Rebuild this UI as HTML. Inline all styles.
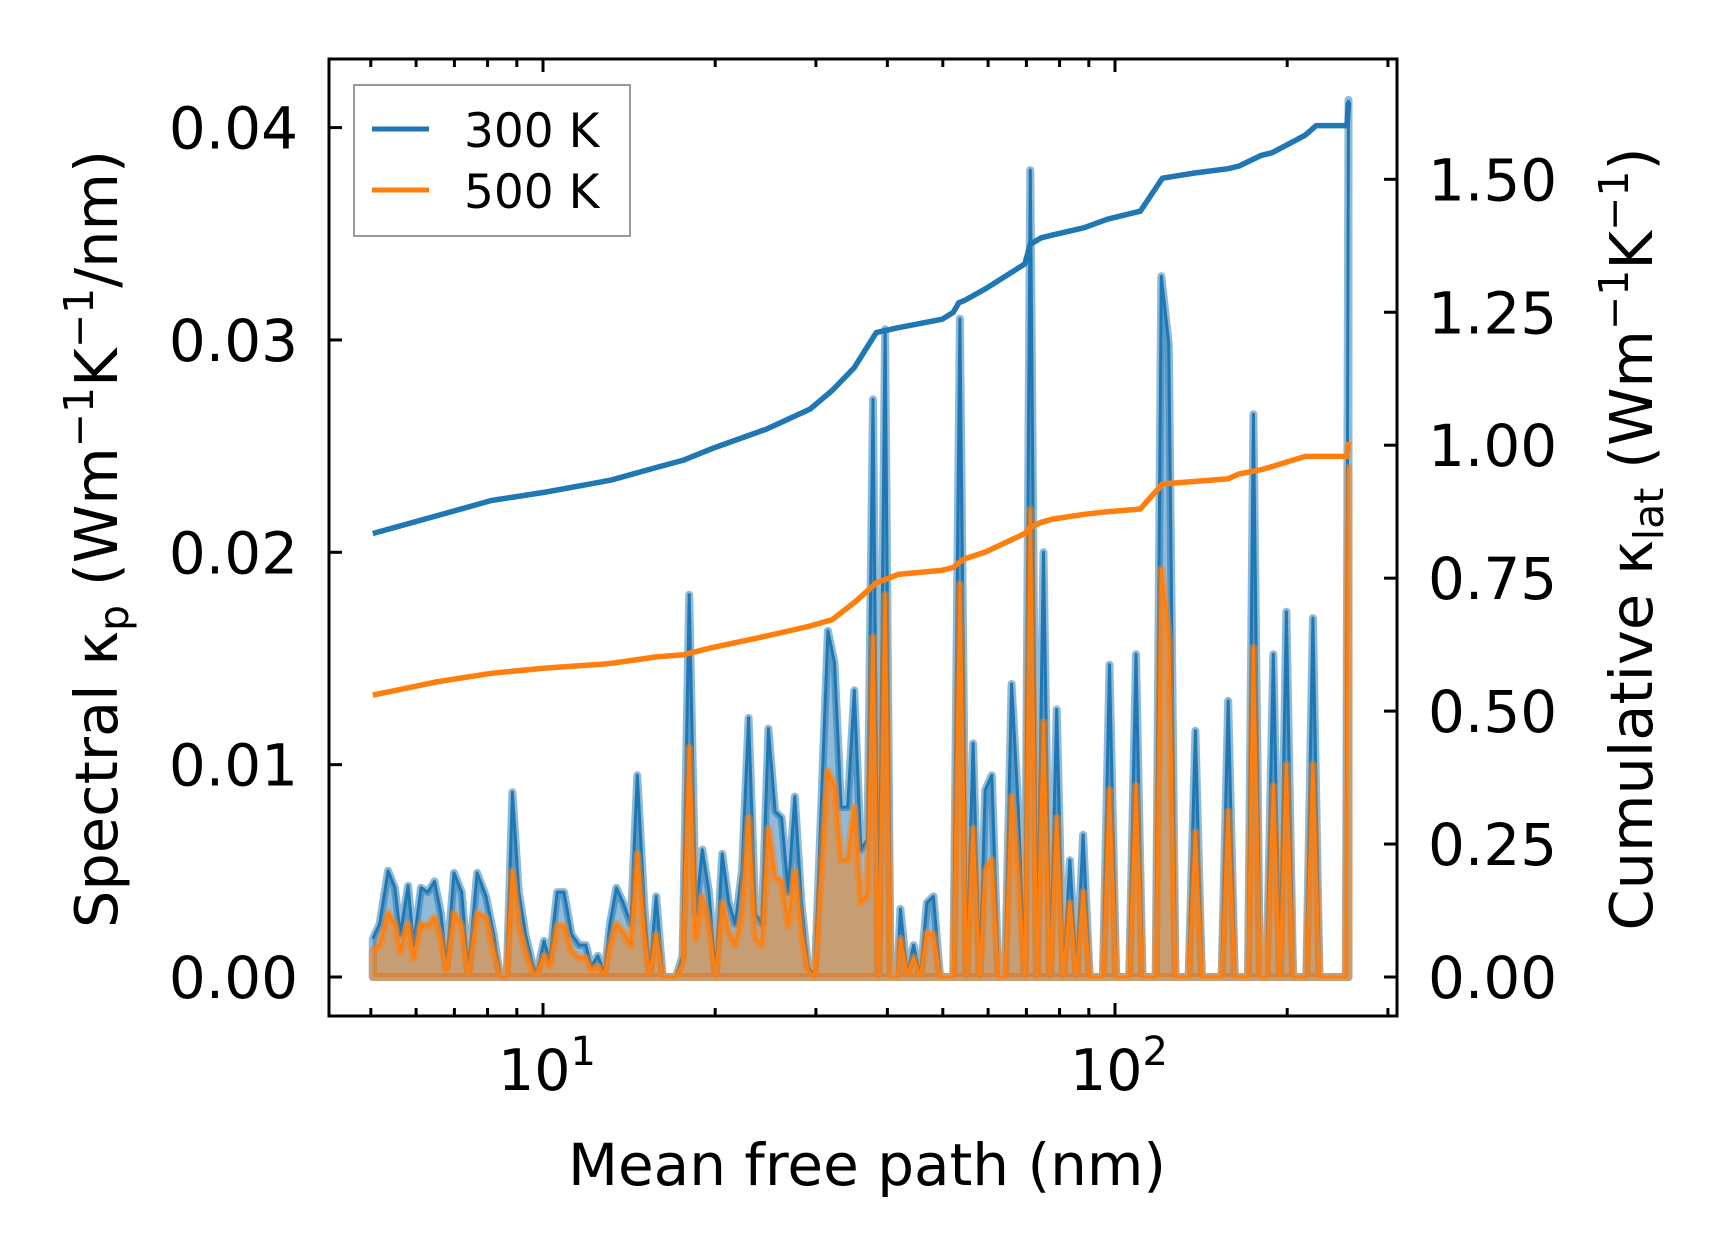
<!DOCTYPE html>
<html><head><meta charset="utf-8"><style>
html,body{margin:0;padding:0;background:#fff;}
svg{display:block;font-family:"DejaVu Sans","Liberation Sans",sans-serif;}
</style></head><body>
<svg id="chart" width="1716" height="1254" viewBox="0 0 1716 1254" xmlns="http://www.w3.org/2000/svg">
<rect width="1716" height="1254" fill="#fff"/>
<g id="plot"></g>
<g id="axes"></g>
</svg>
<script>
// spectral data
const mfp = [5.04,5.18,5.36,5.51,5.63,5.81,5.94,6.12,6.29,6.46,6.63,6.78,6.99,7.21,7.40,7.67,7.95,8.20,8.42,8.64,8.84,9.07,9.32,9.57,9.74,10.04,10.27,10.59,10.88,11.22,11.57,11.88,12.15,12.47,12.81,13.09,13.44,13.81,14.24,14.62,15.02,15.36,15.77,16.19,17.08,17.54,18.01,18.50,18.99,19.51,20.03,20.57,21.13,21.69,22.28,22.88,23.50,24.13,24.78,25.45,26.13,26.84,27.56,28.30,29.06,29.85,30.65,31.48,32.33,33.20,34.09,35.01,35.95,36.92,37.75,38.59,39.63,40.51,41.61,42.16,43.30,44.46,45.66,46.89,48.15,49.45,52.15,53.56,55.00,56.48,58.00,59.30,60.89,62.54,64.22,65.95,67.73,69.55,71.10,73.02,74.99,77.01,79.08,81.21,83.40,85.65,87.95,90.32,95.26,97.82,100.5,105.9,108.8,111.7,117.8,120.5,124.2,127.6,134.5,138.2,141.9,153.6,157.7,162.0,170.8,174.6,179.3,184.1,189.1,194.2,199.4,204.8,216.0,221.8,227.8,253.3,256.0];
const kp300 = [0.0018,0.0025,0.0050,0.0042,0.0020,0.0043,0.0015,0.0042,0.0040,0.0045,0.0030,0.0005,0.0049,0.0040,0.0002,0.0049,0.0038,0.0020,0.0000,0.0000,0.0087,0.0040,0.0020,0.0007,0.0001,0.0017,0.0008,0.0040,0.0040,0.0020,0.0015,0.0015,0.0005,0.0010,0.0002,0.0025,0.0042,0.0035,0.0025,0.0095,0.0035,0.0001,0.0038,0.0000,0.0000,0.0010,0.0180,0.0030,0.0060,0.0040,0.0000,0.0058,0.0035,0.0025,0.0050,0.0122,0.0030,0.0025,0.0117,0.0078,0.0075,0.0040,0.0085,0.0035,0.0005,0.0000,0.0080,0.0163,0.0148,0.0080,0.0080,0.0135,0.0060,0.0065,0.0272,0.0000,0.0305,0.0000,0.0000,0.0032,0.0001,0.0015,0.0000,0.0035,0.0038,0.0000,0.0000,0.0310,0.0000,0.0110,0.0000,0.0088,0.0095,0.0000,0.0000,0.0138,0.0080,0.0000,0.0380,0.0000,0.0200,0.0000,0.0126,0.0000,0.0055,0.0000,0.0067,0.0000,0.0000,0.0147,0.0000,0.0000,0.0152,0.0000,0.0000,0.0330,0.0298,0.0000,0.0000,0.0116,0.0000,0.0000,0.0130,0.0000,0.0000,0.0265,0.0000,0.0000,0.0152,0.0000,0.0172,0.0000,0.0000,0.0169,0.0000,0.0000,0.0413];
const kp500 = [0.0012,0.0015,0.0030,0.0025,0.0012,0.0025,0.0009,0.0025,0.0024,0.0028,0.0018,0.0003,0.0030,0.0024,0.0001,0.0030,0.0028,0.0012,0.0000,0.0000,0.0050,0.0024,0.0012,0.0003,0.0001,0.0010,0.0005,0.0024,0.0024,0.0012,0.0009,0.0009,0.0003,0.0005,0.0001,0.0015,0.0025,0.0021,0.0015,0.0058,0.0021,0.0001,0.0020,0.0000,0.0000,0.0006,0.0108,0.0018,0.0038,0.0024,0.0000,0.0035,0.0021,0.0015,0.0030,0.0075,0.0018,0.0015,0.0070,0.0047,0.0045,0.0024,0.0050,0.0021,0.0003,0.0000,0.0050,0.0097,0.0090,0.0055,0.0055,0.0080,0.0035,0.0039,0.0160,0.0000,0.0180,0.0000,0.0000,0.0018,0.0001,0.0009,0.0000,0.0021,0.0020,0.0000,0.0000,0.0185,0.0000,0.0070,0.0000,0.0050,0.0055,0.0000,0.0000,0.0085,0.0048,0.0000,0.0220,0.0000,0.0120,0.0000,0.0075,0.0000,0.0035,0.0000,0.0040,0.0000,0.0000,0.0088,0.0000,0.0000,0.0090,0.0000,0.0000,0.0192,0.0160,0.0000,0.0000,0.0068,0.0000,0.0000,0.0078,0.0000,0.0000,0.0155,0.0000,0.0000,0.0090,0.0000,0.0100,0.0000,0.0000,0.0100,0.0000,0.0000,0.0240];
// cumulative data
const cumMfp = [5.04,6.51,8.12,10.13,12.64,13.21,15.77,17.62,19.68,24.56,29.32,32.04,35.01,38.25,41.79,49.89,52.15,53.32,54.52,59.56,69.55,71.10,74.33,77.69,88.34,96.97,110.7,121.0,138.2,157.7,164.8,180.1,188.3,215.0,224.8,254.4,256.0];
const cum300 = [0.834,0.867,0.896,0.912,0.931,0.935,0.958,0.972,0.993,1.030,1.068,1.103,1.146,1.212,1.221,1.237,1.250,1.268,1.272,1.295,1.341,1.378,1.390,1.395,1.409,1.425,1.440,1.502,1.512,1.520,1.525,1.545,1.550,1.583,1.601,1.601,1.645];
const cum500 = [0.530,0.555,0.571,0.581,0.588,0.590,0.602,0.606,0.619,0.641,0.660,0.672,0.704,0.741,0.757,0.765,0.770,0.779,0.786,0.800,0.834,0.846,0.855,0.861,0.870,0.875,0.880,0.927,0.932,0.937,0.946,0.954,0.960,0.979,0.979,0.979,1.006];
const yTicksL = ["0.00","0.01","0.02","0.03","0.04"];
const yTickValsL = [0,0.01,0.02,0.03,0.04];
const yTicksR = ["0.00","0.25","0.50","0.75","1.00","1.25","1.50"];
const yTickValsR = [0,0.25,0.5,0.75,1.0,1.25,1.5];

const L=329,R=1397,T=59,B=1016;
const X=v=>543+(Math.log10(v)-1)*572;
const YL=v=>977-v*21235;
const YR=v=>977-v*531.8;
const NS="http://www.w3.org/2000/svg";
const plot=document.getElementById('plot'), axes=document.getElementById('axes');
function mk(tag,attrs,parent){const e=document.createElementNS(NS,tag);for(const k in attrs)e.setAttribute(k,attrs[k]);parent.appendChild(e);return e;}

function spectral(vals,color,name){
  let pts=mfp.map((m,i)=>X(m).toFixed(1)+','+YL(vals[i]).toFixed(1));
  let area='M'+X(mfp[0]).toFixed(1)+','+YL(0)+' L'+pts.join(' L')+' L'+X(mfp[mfp.length-1]).toFixed(1)+','+YL(0)+' Z';
  const f=mk('path',{d:area,fill:color,'fill-opacity':0.5,stroke:color,'stroke-opacity':0.5,'stroke-width':8,'stroke-linejoin':'round'},plot);
  
  
  const l=mk('polyline',{points:pts.join(' '),fill:'none',stroke:color,'stroke-width':3,'stroke-linejoin':'round'},plot);
  
  
}
spectral(kp300,'#1f77b4','spectral-300k');
spectral(kp500,'#ff7f0e','spectral-500k');
function cum(vals,color,name){
  const pts=cumMfp.map((m,i)=>X(m).toFixed(1)+','+YR(vals[i]).toFixed(1)).join(' ');
  const l=mk('polyline',{points:pts,fill:'none',stroke:color,'stroke-width':5.5,'stroke-linejoin':'round'},plot);
  
  
}
cum(cum300,'#1f77b4','cumulative-300k');
cum(cum500,'#ff7f0e','cumulative-500k');

// frame
const fr=mk('rect',{x:L,y:T,width:R-L,height:B-T,fill:'none',stroke:'#000','stroke-width':3},axes);


// x ticks
for(let d=0;d<=2;d++){for(let k=1;k<10;k++){const v=k*Math.pow(10,d);if(v<4.2||v>300)continue;const x=X(v);const len=k===1?13:8;
  mk('line',{x1:x,x2:x,y1:B,y2:B-len,stroke:'#000','stroke-width':3},axes);
  mk('line',{x1:x,x2:x,y1:T,y2:T+len,stroke:'#000','stroke-width':3},axes);}}
[[10,'1'],[100,'2']].forEach(([v,e])=>{const t=mk('text',{x:X(v)+4,y:1090,'font-size':57,'text-anchor':'middle'},axes);
  
  
  t.innerHTML='10<tspan dy="-25" font-size="40">'+e+'</tspan>';});
yTickValsL.forEach((v,i)=>{const y=YL(v);mk('line',{x1:L,x2:L+13,y1:y,y2:y,stroke:'#000','stroke-width':3},axes);
  const t=mk('text',{x:298,y:y+21,'font-size':58,'text-anchor':'end'},axes);t.textContent=yTicksL[i];
  
  });
yTickValsR.forEach((v,i)=>{const y=YR(v);mk('line',{x1:R,x2:R-13,y1:y,y2:y,stroke:'#000','stroke-width':3},axes);
  const t=mk('text',{x:1428,y:y+21,'font-size':58,'text-anchor':'start'},axes);t.textContent=yTicksR[i];
  
  });
</script>
<svg style="position:absolute;left:0;top:0" width="1716" height="1254" xmlns="http://www.w3.org/2000/svg" font-family="DejaVu Sans, Liberation Sans, sans-serif">
<text x="867" y="1185" font-size="58" text-anchor="middle">Mean free path (nm)</text>
<text transform="translate(117,539) rotate(-90)" font-size="59" text-anchor="middle">Spectral κ<tspan font-size="41" dy="11">p</tspan><tspan dy="-11"> (Wm</tspan><tspan font-size="41" dy="-24">−1</tspan><tspan dy="24">K</tspan><tspan font-size="41" dy="-24">−1</tspan><tspan dy="24">/nm)</tspan></text>
<text transform="translate(1652,539) rotate(-90)" font-size="59" text-anchor="middle">Cumulative κ<tspan font-size="41" dy="11">lat</tspan><tspan dy="-11"> (Wm</tspan><tspan font-size="41" dy="-24">−1</tspan><tspan dy="24">K</tspan><tspan font-size="41" dy="-24">−1</tspan><tspan dy="24">)</tspan></text>
<g>
<rect x="354" y="85" width="276" height="151" fill="#fff" fill-opacity="0.8" stroke="#999" stroke-width="2"/>
<line x1="372" x2="429" y1="129" y2="129" stroke="#1f77b4" stroke-width="5"/>
<text x="464" y="147" font-size="47">300 K</text>
<line x1="372" x2="429" y1="190" y2="190" stroke="#ff7f0e" stroke-width="5"/>
<text x="464" y="208" font-size="47">500 K</text>
</g>
</svg>
</body></html>
